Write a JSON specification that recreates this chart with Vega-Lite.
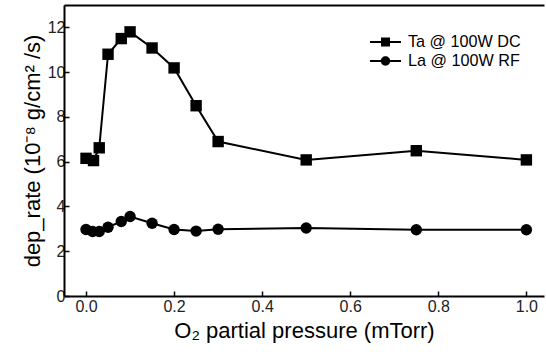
{
  "$schema": "https://vega.github.io/schema/vega-lite/v6.json",
  "autosize": "none",
  "width": 480,
  "height": 291,
  "padding": {"left": 64, "top": 5, "right": 2, "bottom": 60},
  "background": "white",
  "config": {
    "view": {"stroke": null},
    "font": "Liberation Sans",
    "axis": {"grid": false, "domainColor": "black", "domainWidth": 2, "tickColor": "black", "tickWidth": 1.5, "labelColor": "#222", "labelFontSize": 16, "titleFontSize": 22, "titleFontWeight": "normal", "titleColor": "black", "labelFont": "Liberation Sans", "titleFont": "Liberation Sans"}
  },
  "data": {"values": [
    {"p": 0.0, "rate": 6.15, "series": "Ta @ 100W DC"},
    {"p": 0.017, "rate": 6.05, "series": "Ta @ 100W DC"},
    {"p": 0.03, "rate": 6.62, "series": "Ta @ 100W DC"},
    {"p": 0.05, "rate": 10.8, "series": "Ta @ 100W DC"},
    {"p": 0.08, "rate": 11.5, "series": "Ta @ 100W DC"},
    {"p": 0.1, "rate": 11.8, "series": "Ta @ 100W DC"},
    {"p": 0.15, "rate": 11.08, "series": "Ta @ 100W DC"},
    {"p": 0.2, "rate": 10.19, "series": "Ta @ 100W DC"},
    {"p": 0.25, "rate": 8.5, "series": "Ta @ 100W DC"},
    {"p": 0.3, "rate": 6.9, "series": "Ta @ 100W DC"},
    {"p": 0.5, "rate": 6.08, "series": "Ta @ 100W DC"},
    {"p": 0.75, "rate": 6.49, "series": "Ta @ 100W DC"},
    {"p": 1.0, "rate": 6.08, "series": "Ta @ 100W DC"},
    {"p": 0.0, "rate": 2.97, "series": "La @ 100W RF"},
    {"p": 0.015, "rate": 2.88, "series": "La @ 100W RF"},
    {"p": 0.03, "rate": 2.88, "series": "La @ 100W RF"},
    {"p": 0.05, "rate": 3.07, "series": "La @ 100W RF"},
    {"p": 0.08, "rate": 3.33, "series": "La @ 100W RF"},
    {"p": 0.1, "rate": 3.55, "series": "La @ 100W RF"},
    {"p": 0.15, "rate": 3.25, "series": "La @ 100W RF"},
    {"p": 0.2, "rate": 2.97, "series": "La @ 100W RF"},
    {"p": 0.25, "rate": 2.9, "series": "La @ 100W RF"},
    {"p": 0.3, "rate": 2.98, "series": "La @ 100W RF"},
    {"p": 0.5, "rate": 3.04, "series": "La @ 100W RF"},
    {"p": 0.75, "rate": 2.96, "series": "La @ 100W RF"},
    {"p": 1.0, "rate": 2.96, "series": "La @ 100W RF"}
  ]},
  "resolve": {"axis": {"x": "independent"}, "scale": {"shape": "independent"}, "legend": {"shape": "independent"}},
  "layer": [
    {
      "mark": {"type": "line", "color": "black", "strokeWidth": 2},
      "encoding": {
        "x": {"field": "p", "type": "quantitative", "scale": {"domain": [-0.05, 1.04], "nice": false, "zero": false},
              "axis": {"orient": "bottom", "values": [0, 0.2, 0.4, 0.6, 0.8, 1.0], "format": ".1f", "tickSize": -5, "labelPadding": 7, "title": "O₂ partial pressure (mTorr)", "titlePadding": 6}},
        "y": {"field": "rate", "type": "quantitative", "scale": {"domain": [0, 13], "nice": false},
              "axis": {"values": [0, 2, 4, 6, 8, 10, 12], "tickSize": -5, "labelPadding": 4, "title": "dep_rate (10⁻⁸  g/cm² /s)", "titlePadding": 3}},
        "detail": {"field": "series"}
      }
    },
    {
      "mark": {"type": "point", "filled": true, "opacity": 1, "color": "black", "size": 130},
      "encoding": {
        "x": {"field": "p", "type": "quantitative", "scale": {"domain": [-0.05, 1.04], "nice": false, "zero": false},
              "axis": {"orient": "top", "labels": false, "ticks": false, "title": null, "values": []}},
        "y": {"field": "rate", "type": "quantitative"},
        "shape": {"field": "series", "type": "nominal",
                  "scale": {"domain": ["Ta @ 100W DC", "La @ 100W RF"], "range": ["square", "circle"]},
                  "legend": null}
      }
    },
    {
      "transform": [{"filter": "false"}],
      "mark": {"type": "point", "filled": true, "opacity": 1, "color": "black", "size": 400},
      "encoding": {
        "x": {"field": "p", "type": "quantitative", "axis": null},
        "y": {"field": "rate", "type": "quantitative"},
        "shape": {"field": "series", "type": "nominal",
                  "scale": {"domain": ["Ta @ 100W DC", "La @ 100W RF"], "range": ["M-1.55,-0.1H1.55V0.1H-1.55ZM-0.45,-0.45H0.45V0.45H-0.45Z", "M-1.55,-0.1H1.55V0.1H-1.55ZM0.47,0A0.47,0.47,0,1,1,-0.47,0A0.47,0.47,0,1,1,0.47,0Z"]},
                  "legend": {"title": null, "orient": "none", "legendX": 311.5, "legendY": 27, "padding": 0, "rowPadding": 0,
                             "symbolSize": 400, "labelOffset": 12.5, "labelFontSize": 16.2, "labelColor": "black", "labelFont": "Liberation Sans",
                             "symbolFillColor": "black", "symbolStrokeWidth": 0}}
      }
    }
  ]
}
